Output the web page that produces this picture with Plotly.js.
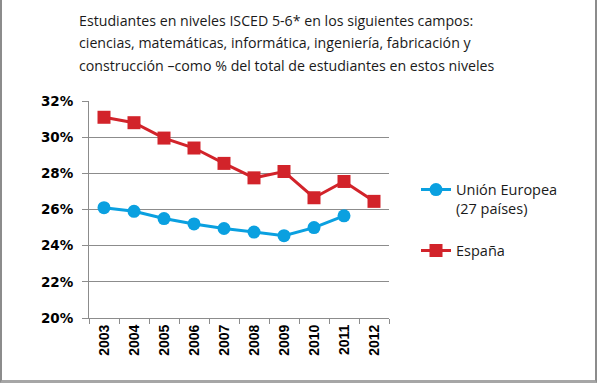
<!DOCTYPE html>
<html>
<head>
<meta charset="utf-8">
<script src="https://cdn.plot.ly/plotly-3.0.1.min.js"></script>
<style>
  html, body { margin: 0; padding: 0; background: #fff; }
  #wrap { position: relative; width: 597px; height: 384px; }
  #chart { width: 597px; height: 384px; }
  #frame { position: absolute; left: 0; top: -2px; width: 593px; height: 382px;
           border-left: 2px solid #8c8c8c; border-right: 2px solid #8c8c8c; border-bottom: 3px solid #a6a6a6;
           pointer-events: none; }
</style>
</head>
<body>
<div id="wrap">
  <div id="chart"></div>
  <div id="frame"></div>
</div>
<script>
const years = ['2003','2004','2005','2006','2007','2008','2009','2010','2011','2012'];
const euYears = ['2003','2004','2005','2006','2007','2008','2009','2010','2011'];
const euValues = [26.1, 25.9, 25.5, 25.2, 24.95, 24.75, 24.55, 25.0, 25.65];
const esValues = [31.1, 30.8, 29.95, 29.4, 28.55, 27.75, 28.1, 26.65, 27.55, 26.45];
const euName = 'Unión Europea<br>(27 países)';
const esName = 'España';
const titleLines = [
  'Estudiantes en niveles ISCED 5-6* en los siguientes campos:',
  'ciencias, matemáticas, informática, ingeniería, fabricación y',
  'construcción –como % del total de estudiantes en estos niveles'
];
const yTicks = [20, 22, 24, 26, 28, 30, 32];

const titleFont = {family: 'Open Sans, Noto Sans, sans-serif', size: 14.2, color: '#1a1a1a'};
const legendFont = {family: 'Open Sans, Noto Sans, sans-serif', size: 14.5, color: '#1a1a1a'};

const traces = [
  {x: euYears, y: euValues, name: euName, type: 'scatter', mode: 'lines+markers',
   line: {color: '#0aa0e0', width: 3}, marker: {symbol: 'circle', size: 13, color: '#0aa0e0'},
   legend: 'legend'},
  {x: years, y: esValues, name: esName, type: 'scatter', mode: 'lines+markers',
   line: {color: '#d2232a', width: 3}, marker: {symbol: 'square', size: 13, color: '#d2232a'},
   legend: 'legend2'}
];

const yTop = [1.373, 1.268, 1.163];
const annotations = titleLines.map((t, i) => ({
  text: t, xref: 'paper', yref: 'paper', x: -0.04, y: yTop[i],
  xanchor: 'left', yanchor: 'middle', showarrow: false, font: titleFont
}));

const layout = {
  width: 597, height: 384,
  margin: {l: 89, r: 208, t: 101, b: 66},
  paper_bgcolor: '#ffffff', plot_bgcolor: '#ffffff',
  showlegend: true,
  xaxis: {
    type: 'category', categoryorder: 'array', categoryarray: years,
    range: [-0.5, 9.5], tickson: 'boundaries', ticks: 'outside', ticklen: 5,
    tickcolor: '#8c8c8c', tickwidth: 1, showline: true, linecolor: '#8c8c8c', linewidth: 1,
    showgrid: false, zeroline: false, tickangle: -90,
    tickfont: {family: 'Liberation Sans, Arial, sans-serif', size: 14, color: '#000', weight: 'bold'}
  },
  yaxis: {
    range: [20, 32], tickvals: yTicks, ticktext: yTicks.map(v => v + '%'),
    ticks: 'outside', ticklen: 6, tickcolor: '#8c8c8c', showline: true, linecolor: '#8c8c8c',
    linewidth: 1, showgrid: true, gridcolor: '#8c8c8c', gridwidth: 1, zeroline: false,
    ticklabelstandoff: 6,
    tickfont: {family: 'DejaVu Sans, Verdana, sans-serif', size: 13.5, color: '#000', weight: 'bold'}
  },
  legend: {x: 1.09, y: 0.665, xanchor: 'left', yanchor: 'top', valign: 'top',
           font: legendFont, bgcolor: 'rgba(0,0,0,0)', borderwidth: 0, itemwidth: 30},
  legend2: {x: 1.09, y: 0.385, xanchor: 'left', yanchor: 'top', valign: 'top',
           font: legendFont, bgcolor: 'rgba(0,0,0,0)', borderwidth: 0, itemwidth: 30},
  annotations: annotations
};

Plotly.newPlot('chart', traces, layout, {displayModeBar: false, staticPlot: true});
</script>
</body>
</html>
